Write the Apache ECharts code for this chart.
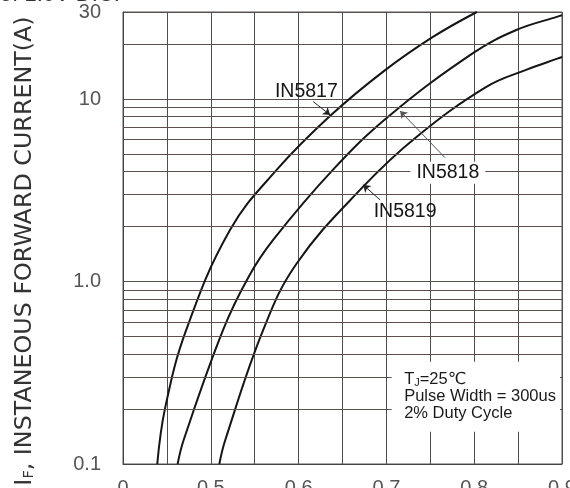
<!DOCTYPE html>
<html><head><meta charset="utf-8">
<script src="https://cdn.jsdelivr.net/npm/echarts@6/dist/echarts.min.js"></script>
<style>html,body{margin:0;padding:0;background:#fff}#c{width:570px;height:488px}</style>
</head><body><div id="c"></div>
<script>
// ---- data ----
const xTicks = [0.4, 0.5, 0.6, 0.7, 0.8, 0.9];
const xTickLabels = ['0', '0.5', '0.6', '0.7', '0.8', '0.9'];
const yTicks = [0.1, 1, 10, 30];
const yTickLabels = ['0.1', '1.0', '10', '30'];
const yMinorGrid = [0.2, 0.3, 0.4, 0.5, 0.6, 0.7, 0.8, 0.9, 2, 3, 4, 5, 6, 7, 8, 9, 20];

const v5817 = [0.439, 0.448, 0.472, 0.522, 0.575, 0.636, 0.696, 0.753, 0.803];
const i5817 = [0.1, 0.203, 0.543, 1.92, 4.09, 8.09, 14.1, 21.9, 30];

const v5818 = [0.4622, 0.469, 0.514, 0.543, 0.571, 0.639, 0.702, 0.799, 0.848, 0.895, 0.9];
const i5818 = [0.1, 0.135, 0.543, 1.06, 1.69, 4.09, 8.0, 17.9, 23.9, 28.3, 28.8];

const v5819 = [0.5097, 0.5164, 0.5597, 0.598, 0.6735, 0.7346, 0.8143, 0.8598, 0.8955, 0.9];
const i5819 = [0.1, 0.135, 0.543, 1.26, 3.31, 6.22, 11.7, 14.5, 16.7, 17.0];

const seriesNames = ['IN5817', 'IN5818', 'IN5819'];
// annotation anchors (data coordinates)
const labelPos = [[0.6088, 11.0], [0.770, 3.94], [0.7213, 2.42]];
const arrowFrom = [[0.6166, 9.69], [0.7668, 4.77], [0.6928, 2.80]];
const arrowTo = [[0.636, 8.18], [0.7156, 8.6], [0.6735, 3.39]];
const noteLines = ['TJ=25℃', 'Pulse Width = 300us', '2% Duty Cycle'];

// ---- chart ----
const FONT = "'Liberation Sans', Arial, Helvetica, 'DejaVu Sans', sans-serif";
const H_COLOR = '#5e4f4f';
const V_COLOR = '#4e4e4e';
const chart = echarts.init(document.getElementById('c'));
const pairs = (xs, ys) => xs.map((x, i) => [x, ys[i]]);

function curve(name, xs, ys, k) {
  return {
    name: name, type: 'line', data: pairs(xs, ys), smooth: 0.4,
    showSymbol: false, symbol: 'none', clip: true, silent: true,
    lineStyle: { color: '#151515', width: 2 },
    markLine: {
      silent: true, symbol: ['none', 'arrow'], symbolSize: 7, animation: false,
      label: { show: false },
      lineStyle: { color: k === 1 ? '#555' : '#222', width: 1, type: 'solid' },
      data: [[{ coord: arrowFrom[k] }, { coord: arrowTo[k] }]]
    }
  };
}

const option = {
  animation: false,
  grid: { left: 123, right: 8, top: 12, bottom: 24, show: true, borderColor: '#555', borderWidth: 1, outerBoundsMode: 'none', containLabel: false },
  xAxis: {
    type: 'value', min: 0.4, max: 0.9, interval: 0.05,
    axisLine: { show: true, lineStyle: { color: '#444' } },
    axisTick: { show: false },
    splitLine: { show: true, lineStyle: { color: V_COLOR, width: 1 } },
    axisLabel: {
      margin: 14, color: '#555', fontSize: 20, fontFamily: FONT, showMinLabel: true, showMaxLabel: true, hideOverlap: false,
      formatter: v => { const i = xTicks.findIndex(t => Math.abs(t - v) < 1e-6); return i >= 0 ? xTickLabels[i] : ''; }
    }
  },
  yAxis: {
    type: 'log', logBase: 10, min: 0.1, max: 30,
    axisLine: { show: true, lineStyle: { color: '#444' } },
    axisTick: { show: false },
    splitLine: { show: true, lineStyle: { color: H_COLOR, width: 1 } },
    axisLabel: {
      margin: 22, color: '#555', fontSize: 20, fontFamily: FONT, showMinLabel: true, showMaxLabel: true, hideOverlap: false,
      formatter: v => { const i = yTicks.findIndex(t => Math.abs(t - v) / t < 1e-6); return i >= 0 ? yTickLabels[i] : ''; }
    }
  },
  series: [
    {
      name: 'grid', type: 'line', data: [], silent: true,
      markLine: {
        silent: true, symbol: 'none', animation: false, label: { show: false },
        lineStyle: { color: H_COLOR, width: 1, type: 'solid' },
        data: yMinorGrid.map(v => ({ yAxis: v }))
      }
    },
    curve(seriesNames[0], v5817, i5817, 0),
    curve(seriesNames[1], v5818, i5818, 1),
    curve(seriesNames[2], v5819, i5819, 2)
  ]
};
chart.setOption(option);

const P = (x, y) => chart.convertToPixel({ xAxisIndex: 0, yAxisIndex: 0 }, [x, y]);
const g = [];
// white note box
const b1 = P(0.706, 0.363), b2 = P(0.9, 0.15);
g.push({ type: 'rect', z: 50, shape: { x: b1[0], y: b1[1], width: b2[0] - b1[0] - 2, height: b2[1] - b1[1] }, style: { fill: '#fff' }, silent: true });
const noteY = [0.289, 0.234, 0.190];
noteLines.forEach((t, i) => {
  const p = P(0.7202, noteY[i]);
  const txt = i === 0 ? '{t|T}{j|J}{t|=25℃}' : '{t|' + t + '}';
  g.push({ type: 'text', z: 60, x: p[0], y: p[1], silent: true,
    style: { text: txt, align: 'left', verticalAlign: 'middle', fill: '#1a1a1a',
      rich: { t: { fontSize: 16.5, fontFamily: FONT, fill: '#1a1a1a' }, j: { fontSize: 11, fontFamily: FONT, fill: '#1a1a1a', verticalAlign: 'bottom' } } } });
});
// curve labels
seriesNames.forEach((n, i) => {
  const p = P(labelPos[i][0], labelPos[i][1]);
  g.push({ type: 'text', z: 60, x: p[0], y: p[1], silent: true,
    style: { text: n, align: 'center', verticalAlign: 'middle', fill: '#151515', fontSize: 19.5, fontFamily: FONT,
      backgroundColor: i === 1 ? '#fff' : null, padding: i === 1 ? [1, 6] : 0 } });
});
// axis title
const TFONT = "'DejaVu Sans', 'Liberation Sans', sans-serif";
g.push({ type: 'text', z: 60, x: 25, y: 251, rotation: Math.PI / 2, silent: true,
  style: { text: '{a|I}{b|F}{a|, INSTANEOUS FORWARD CURRENT(A)}', align: 'center', verticalAlign: 'middle', fill: '#333',
    rich: { a: { fontSize: 23.8, fontFamily: TFONT, fill: '#333' }, b: { fontSize: 14.5, fontFamily: TFONT, fill: '#333', verticalAlign: 'bottom' } } } });
// clipped caption remnant at top
g.push({ type: 'text', z: 60, x: 0, y: -5, silent: true,
  style: { text: 'of 1.0V D.C.', align: 'left', verticalAlign: 'middle', fill: '#333', fontSize: 22, fontFamily: FONT } });
chart.setOption({ graphic: g });
</script></body></html>
